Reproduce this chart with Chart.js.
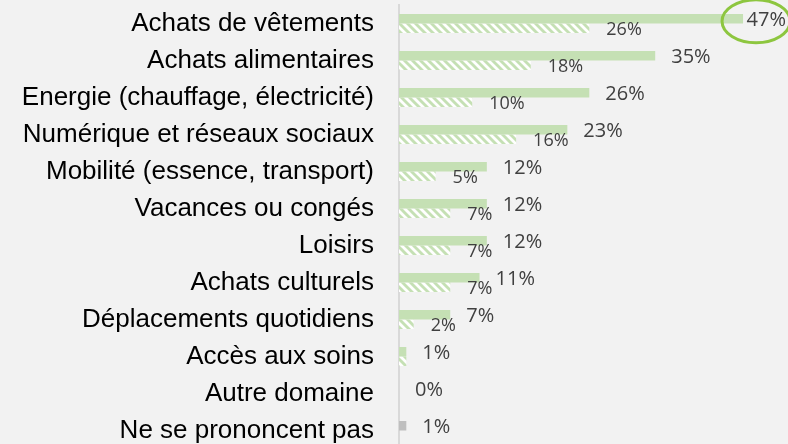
<!DOCTYPE html>
<html>
<head>
<meta charset="utf-8">
<script src="https://cdn.jsdelivr.net/npm/chart.js@4"></script>
<style>
  html, body { margin: 0; padding: 0; background: #f2f2f2; overflow: hidden; }
  #wrap { position: relative; width: 788px; height: 449px; }
</style>
</head>
<body>
<div id="wrap"><canvas id="c"></canvas></div>
<script>
const categories = [
  "Achats de vêtements",
  "Achats alimentaires",
  "Energie (chauffage, électricité)",
  "Numérique et réseaux sociaux",
  "Mobilité (essence, transport)",
  "Vacances ou congés",
  "Loisirs",
  "Achats culturels",
  "Déplacements quotidiens",
  "Accès aux soins",
  "Autre domaine",
  "Ne se prononcent pas"
];
const solidValues   = [47, 35, 26, 23, 12, 12, 12, 11, 7, 1, 0, 1];
const hatchedValues = [26, 18, 10, 16, 5, 7, 7, 7, 2, 1, null, null];
const hiddenHatchedLabels = [9];
const highlightedIndex = 0;

const GREEN = '#c5e0b4';
const GREY = '#bfbfbf';

function makeHatch() {
  const p = document.createElement('canvas');
  p.width = 8; p.height = 8;
  const g = p.getContext('2d');
  g.fillStyle = '#ffffff';
  g.fillRect(0, 0, 8, 8);
  g.strokeStyle = GREEN;
  g.lineWidth = 2.9;
  for (const x0 of [-8, 0, 8]) {
    g.beginPath();
    g.moveTo(x0 - 2, -2);
    g.lineTo(x0 + 10, 10);
    g.stroke();
  }
  return g.createPattern(p, 'repeat');
}

const labelPlugin = {
  id: 'valueLabels',
  afterDatasetsDraw(chart) {
    const ctx = chart.ctx;
    const maxRight = chart.width - 2;
    ctx.save();
    ctx.fillStyle = '#404040';
    ctx.textAlign = 'left';
    ctx.textBaseline = 'middle';
    const m0 = chart.getDatasetMeta(0);
    ctx.font = '20px "Open Sans"';
    m0.data.forEach((el, i) => {
      const v = solidValues[i];
      if (v === null || v === undefined) return;
      const t = v + '%';
      const w = ctx.measureText(t).width;
      let x = el.x + 16;
      if (x + w > maxRight) x = maxRight - w;
      ctx.fillText(t, x, el.y + 1.5);
      if (i === highlightedIndex) {
        ctx.save();
        ctx.strokeStyle = '#8dc63f';
        ctx.lineWidth = 3;
        ctx.beginPath();
        ctx.ellipse(el.x + 13, el.y + 2.5, 34, 21.5, 0, 0, Math.PI * 2);
        ctx.stroke();
        ctx.restore();
      }
    });
    const m1 = chart.getDatasetMeta(1);
    ctx.font = '18px "Open Sans"';
    m1.data.forEach((el, i) => {
      const v = hatchedValues[i];
      if (v === null || v === undefined) return;
      if (hiddenHatchedLabels.includes(i)) return;
      ctx.fillText(v + '%', el.x + 17, el.y + 2);
    });
    ctx.restore();
  }
};

new Chart(document.getElementById('c'), {
  type: 'bar',
  data: {
    labels: categories,
    datasets: [
      {
        data: solidValues,
        backgroundColor: solidValues.map((v, i) => i === categories.length - 1 ? GREY : GREEN),
        borderWidth: 0,
        categoryPercentage: 0.514,
        barPercentage: 1.0
      },
      {
        data: hatchedValues,
        backgroundColor: makeHatch(),
        borderWidth: 0,
        categoryPercentage: 0.514,
        barPercentage: 1.0
      }
    ]
  },
  options: {
    indexAxis: 'y',
    responsive: true,
    maintainAspectRatio: false,
    animation: false,
    layout: { padding: { top: 5, right: 23, bottom: 0, left: 0 } },
    plugins: { legend: { display: false }, tooltip: { enabled: false } },
    scales: {
      x: { min: 0, max: 50, display: false },
      y: {
        grid: { display: false, drawTicks: false },
        border: { display: true, color: '#d9d9d9', width: 2 },
        ticks: {
          color: '#000000',
          padding: 25,
          font: { family: '"Liberation Sans", Arial, sans-serif', size: 26 }
        },
        afterFit(scale) {
          scale.width = 399;
          scale.paddingTop = 0;
          scale.paddingBottom = 0;
        }
      }
    }
  },
  plugins: [labelPlugin]
});
</script>
</body>
</html>
